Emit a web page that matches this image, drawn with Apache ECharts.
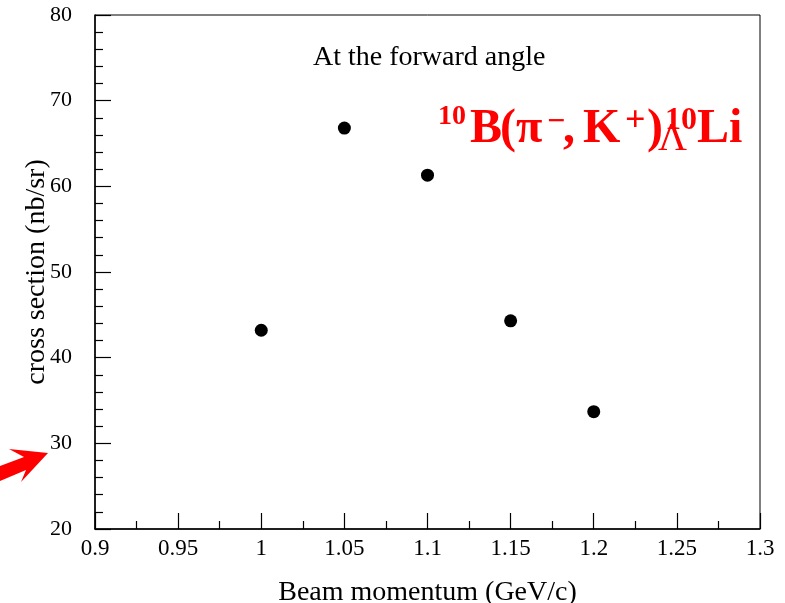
<!DOCTYPE html>
<html>
<head>
<meta charset="utf-8">
<script src="https://cdn.jsdelivr.net/npm/echarts@6/dist/echarts.min.js"></script>
<style>html,body{margin:0;padding:0;background:#fff}#c{width:785px;height:603px}</style>
</head>
<body>
<div id="c"></div>
<script>
// Beam momentum (GeV/c) and forward-angle cross section (nb/sr)
const momentum = [1.0, 1.05, 1.1, 1.15, 1.2];
const crossSection = [43.2, 66.8, 61.3, 44.3, 33.7];

const FONT = '"Liberation Serif", "DejaVu Serif", serif';
const RED = '#ff0000';
const chart = echarts.init(document.getElementById('c'));

const axisCommon = {
  axisLine: { show: true, onZero: false, lineStyle: { color: '#000', width: 1.5 } },
  axisTick: { show: true, inside: true, length: 16, lineStyle: { color: '#000', width: 1.2 } },
  minorTick: { show: true, length: 8, lineStyle: { color: '#000', width: 1.2 } },
  splitLine: { show: false },
  axisLabel: { color: '#000', fontFamily: FONT, fontSize: 22 },
  nameTextStyle: { color: '#000', fontFamily: FONT, fontSize: 28 },
  nameMoveOverlap: false
};

// one piece of the reaction formula, placed by its left edge and vertical centre
function piece(text, left, cy, size, bold) {
  return {
    type: 'text', x: left, y: cy,
    style: {
      text: text, fill: RED,
      font: (bold ? 'bold ' : '') + size + 'px ' + FONT,
      textAlign: 'left', textVerticalAlign: 'middle'
    }
  };
}

chart.setOption({
  animation: false,
  backgroundColor: '#fff',
  grid: {
    left: 95, top: 15, width: 665, height: 514,
    outerBoundsMode: 'none', containLabel: false,
    show: true, borderColor: '#000', borderWidth: 1
  },
  xAxis: Object.assign({}, axisCommon, {
    type: 'value', min: 0.9, max: 1.3, interval: 0.05,
    minorTick: Object.assign({}, axisCommon.minorTick, { splitNumber: 2 }),
    axisLabel: Object.assign({}, axisCommon.axisLabel, { margin: 8, fontSize: 23 }),
    name: 'Beam momentum (GeV/c)', nameLocation: 'middle', nameGap: 50
  }),
  yAxis: Object.assign({}, axisCommon, {
    type: 'value', min: 20, max: 80, interval: 10,
    minorTick: Object.assign({}, axisCommon.minorTick, { splitNumber: 5 }),
    axisLabel: Object.assign({}, axisCommon.axisLabel, { margin: 23 }),
    name: 'cross section (nb/sr)', nameLocation: 'middle', nameGap: 44
  }),
  series: [{
    type: 'scatter',
    symbol: 'circle',
    symbolSize: 13,
    itemStyle: { color: '#000', opacity: 1 },
    data: momentum.map((m, i) => [m, crossSection[i]])
  }],
  graphic: [
    {
      type: 'text', x: 313, y: 57.5,
      style: { text: 'At the forward angle', font: '28px ' + FONT, fill: '#000', textAlign: 'left', textVerticalAlign: 'middle' }
    },
    // 10B(π−,K+) Λ-10-Li reaction label
    piece('10', 438, 117, 28, true),
    piece('B', 470, 130, 48, true),
    piece('(π', 500, 130, 48, true),
    piece('−', 547, 123, 32, true),
    piece(',', 563, 130, 48, true),
    piece('K', 583, 129.5, 48, true),
    piece('+', 625, 122, 36, true),
    piece(')', 647, 130, 48, true),
    piece('Λ', 658, 139, 40, false),
    piece('10', 665, 121, 32, true),
    piece('Li', 697, 130, 48, true),
    {
      type: 'polygon',
      shape: { points: [[0, 466], [24, 457], [9, 449], [48, 453], [21, 482], [26, 470], [0, 481]] },
      style: { fill: RED }
    }
  ]
});
</script>
</body>
</html>
